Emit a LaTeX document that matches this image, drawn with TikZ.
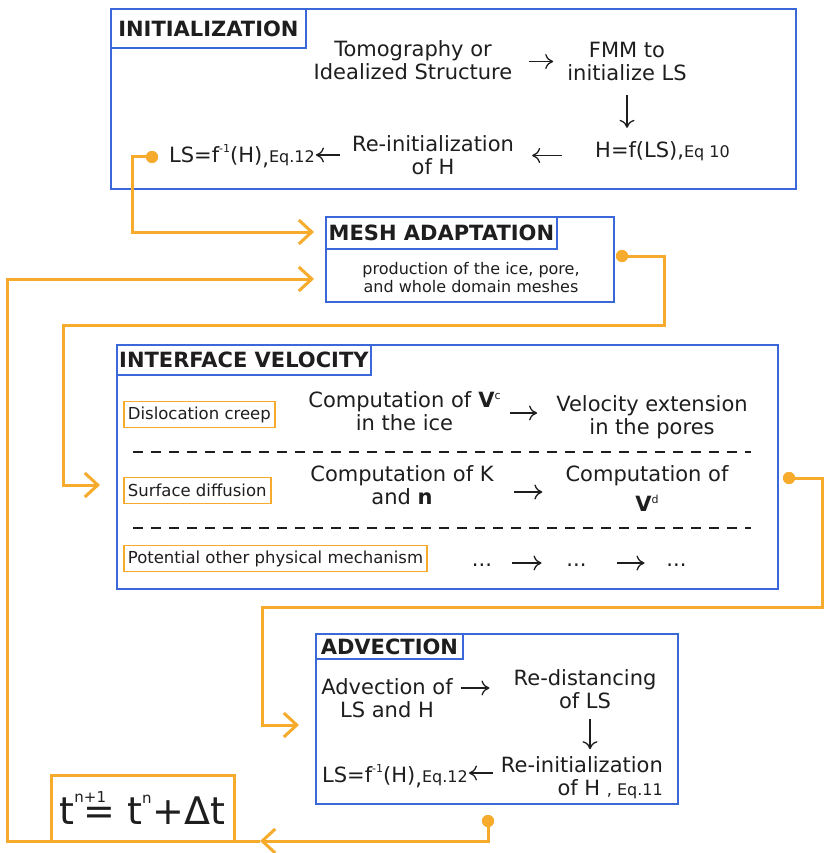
\documentclass[tikz,border=0pt]{standalone}
\usepackage{fontspec}
\setmainfont{DejaVu Sans}
\usetikzlibrary{arrows.meta}
\definecolor{bblue}{HTML}{3B68D8}
\definecolor{oor}{HTML}{F6AB2C}
\definecolor{txt}{HTML}{1E1E1E}
\tikzset{
  bbox/.style={draw=bblue, line width=1.8pt, inner sep=0pt, anchor=north west},
  ttl/.style={draw=bblue, line width=1.8pt, font=\fontsize{21}{23}\selectfont\bfseries, text=txt, inner sep=0pt, anchor=north west},
  body/.style={font=\fontsize{21}{23}\selectfont, align=center, inner sep=0pt, text=txt},
  smalltext/.style={font=\fontsize{16}{18}\selectfont, align=center, inner sep=0pt, text=txt},
  lbl/.style={draw=oor, line width=1.8pt, font=\fontsize{16.5}{18}\selectfont, inner xsep=4pt, inner ysep=0pt, minimum height=26pt, text=txt, anchor=west},
  flow/.style={draw=txt, line width=1.3pt, -{To[length=8pt,width=15pt]}},
  oline/.style={draw=oor, line width=3pt},
  oarr/.style={oline, -{Straight Barb[length=13pt,width=24pt]}},
  odot/.style={circle, fill=oor, minimum size=12pt, inner sep=0pt},
  sepline/.style={draw=txt, line width=1.5pt, dash pattern=on 10pt off 8pt},
}
\newcommand{\eqs}[1]{{\fontsize{16}{16}\selectfont #1}}
\newcommand{\supr}[1]{\raisebox{8pt}{\fontsize{11}{11}\selectfont #1}}
\newcommand{\supinv}{\raisebox{10pt}{\fontsize{11}{11}\selectfont -1}}
\begin{document}
\begin{tikzpicture}[x=1pt,y=-1pt]
\path[use as bounding box, fill=white] (0,0) rectangle (829,853);

% ---------- INITIALIZATION ----------
\node[bbox, minimum width=685pt, minimum height=180pt] (init) at (110,8) {};
\node[ttl, minimum width=195pt, minimum height=39pt] (initT) at (init.north west) {INITIALIZATION};
\node[body] (tomo) at (413,60.5) {Tomography or\\Idealized Structure};
\node[body] (fmm) at (627,61.5) {FMM to\\initialize LS};
\node[body, anchor=base west] (hf) at (595,158) {H=f(LS),\eqs{Eq 10}};
\node[body] (reinit) at (433,155.5) {Re-initialization\\of H};
\node[body, anchor=base west] (lsf) at (169,163) {LS=f\supinv(H)\raisebox{-3pt}{,}\eqs{Eq.12}};
\draw[flow, shorten <=16pt, shorten >=14pt] (tomo.east |- fmm) -- (fmm.west);
\draw[flow, shorten <=14pt, shorten >=14pt] (fmm.south) -- (fmm.south |- hf.north);
\draw[flow, shorten <=33pt, shorten >=18pt] (hf.west |- reinit) -- (reinit.east);
\draw[flow, shorten <=12pt, shorten >=1pt] (reinit.west |- 0,155) -- (lsf.east |- 0,155);

% ---------- MESH ADAPTATION ----------
\node[bbox, minimum width=288pt, minimum height=85pt] (mesh) at (325,216) {};
\node[ttl, minimum width=231pt, minimum height=32pt] (meshT) at (mesh.north west) {MESH ADAPTATION};
\node[smalltext] (meshtxt) at (471,278) {production of the ice, pore,\\and whole domain meshes};

% ---------- INTERFACE VELOCITY ----------
\node[bbox, minimum width=661pt, minimum height=244pt] (iv) at (116,344) {};
\node[ttl, minimum width=254pt, minimum height=30pt] (ivT) at (iv.north west) {INTERFACE VELOCITY};
\node[lbl] (disl) at (123,414.5) {Dislocation creep};
\node[lbl] (surf) at (123,490.5) {Surface diffusion};
\node[lbl] (pot) at (123,558.5) {Potential other physical mechanism};
\node[body] (compV) at (404.5,411.5) {Computation of \textbf{V}\supr{c}\\in the ice};
\node[body] (velext) at (652,417) {Velocity extension\\in the pores};
\node[body] (compK) at (402,485.5) {Computation of K\\and \textbf{n}};
\node[body] (compVd) at (647,489) {Computation of\\[7pt]\textbf{V}\supr{d}};
\node[body, anchor=base] (dA) at (482,566) {...};
\node[body, anchor=base] (dB) at (576.5,566) {...};
\node[body, anchor=base] (dC) at (676.5,566) {...};
\draw[flow, shorten <=9pt, shorten >=19pt] (compV.east |- 0,413) -- (velext.west |- 0,413);
\draw[flow, shorten <=20pt, shorten >=23pt] (compK.east |- 0,492) -- (compVd.west |- 0,492);
\draw[flow, shorten <=30pt, shorten >=35pt] (dA.center |- 0,563) -- (dB.center |- 0,563);
\draw[flow, shorten <=40pt, shorten >=32pt] (dB.center |- 0,563) -- (dC.center |- 0,563);
\draw[sepline] (133,452) -- (751,452);
\draw[sepline] (133,528) -- (751,528);

% ---------- ADVECTION ----------
\node[bbox, minimum width=362pt, minimum height=170pt] (adv) at (315,633) {};
\node[ttl, minimum width=147pt, minimum height=25pt] (advT) at (adv.north west) {ADVECTION};
\node[body] (advof) at (387,698.5) {Advection of\\LS and H};
\node[body] (redist) at (585,689.5) {Re-distancing\\of LS};
\node[body, align=right, anchor=east] (reinit2) at (663,777.5) {Re-initialization\\of H \eqs{, Eq.11}};
\node[body, anchor=base west] (lsf2) at (322,782) {LS=f\supinv(H)\raisebox{-3pt}{,}\eqs{Eq.12}};
\draw[flow, shorten <=8pt, shorten >=24pt] (advof.east |- 0,688) -- (redist.west |- 0,688);
\draw[flow, shorten <=10pt, shorten >=7pt] (redist.south -| 590,0) -- (reinit2.north -| 590,0);
\draw[flow, shorten <=8pt, shorten >=1pt] (reinit2.west |- 0,773) -- (lsf2.east |- 0,773);

% ---------- time step ----------
\node[draw=oor, line width=3pt, minimum width=183pt, minimum height=66pt, inner sep=0pt,
      font=\fontsize{38}{40}\selectfont, text=txt] (tbox) at (142.5,808)
  {t\rlap{\raisebox{0.58em}{\fontsize{15}{15}\selectfont n+1}}\kern9pt= t\raisebox{0.56em}{\fontsize{15}{15}\selectfont n}\kern1pt+Δt};

% ---------- orange loop connectors ----------
\coordinate (m1) at (314,232);
\coordinate (m2) at (314,279);
\coordinate (ivIn) at (100,485);
\coordinate (advIn) at (299,725);
\coordinate (tIn) at (260,841);
\node[odot] (d1) at (152,157) {};
\node[odot] (d2) at (622,256) {};
\node[odot] (d3) at (789,478) {};
\node[odot] (d4) at (488,821) {};
\draw[oarr] (d1.center) -- (132,157) -- (132,232) -- (m1);
\draw[oarr] (d2.center) -- (664,256) -- (664,325) -- (63,325) -- (63,485) -- (ivIn);
\draw[oarr] (d3.center) -- (822,478) -- (822,607) -- (262,607) -- (262,725) -- (advIn);
\draw[oarr] (d4.center) -- (488,841) -- (tIn);
\draw[oarr] (tIn) -- (7,841) -- (7,279) -- (m2);
\node[odot] at (d1) {};
\node[odot] at (d2) {};
\node[odot] at (d3) {};
\node[odot] at (d4) {};
\end{tikzpicture}
\end{document}
